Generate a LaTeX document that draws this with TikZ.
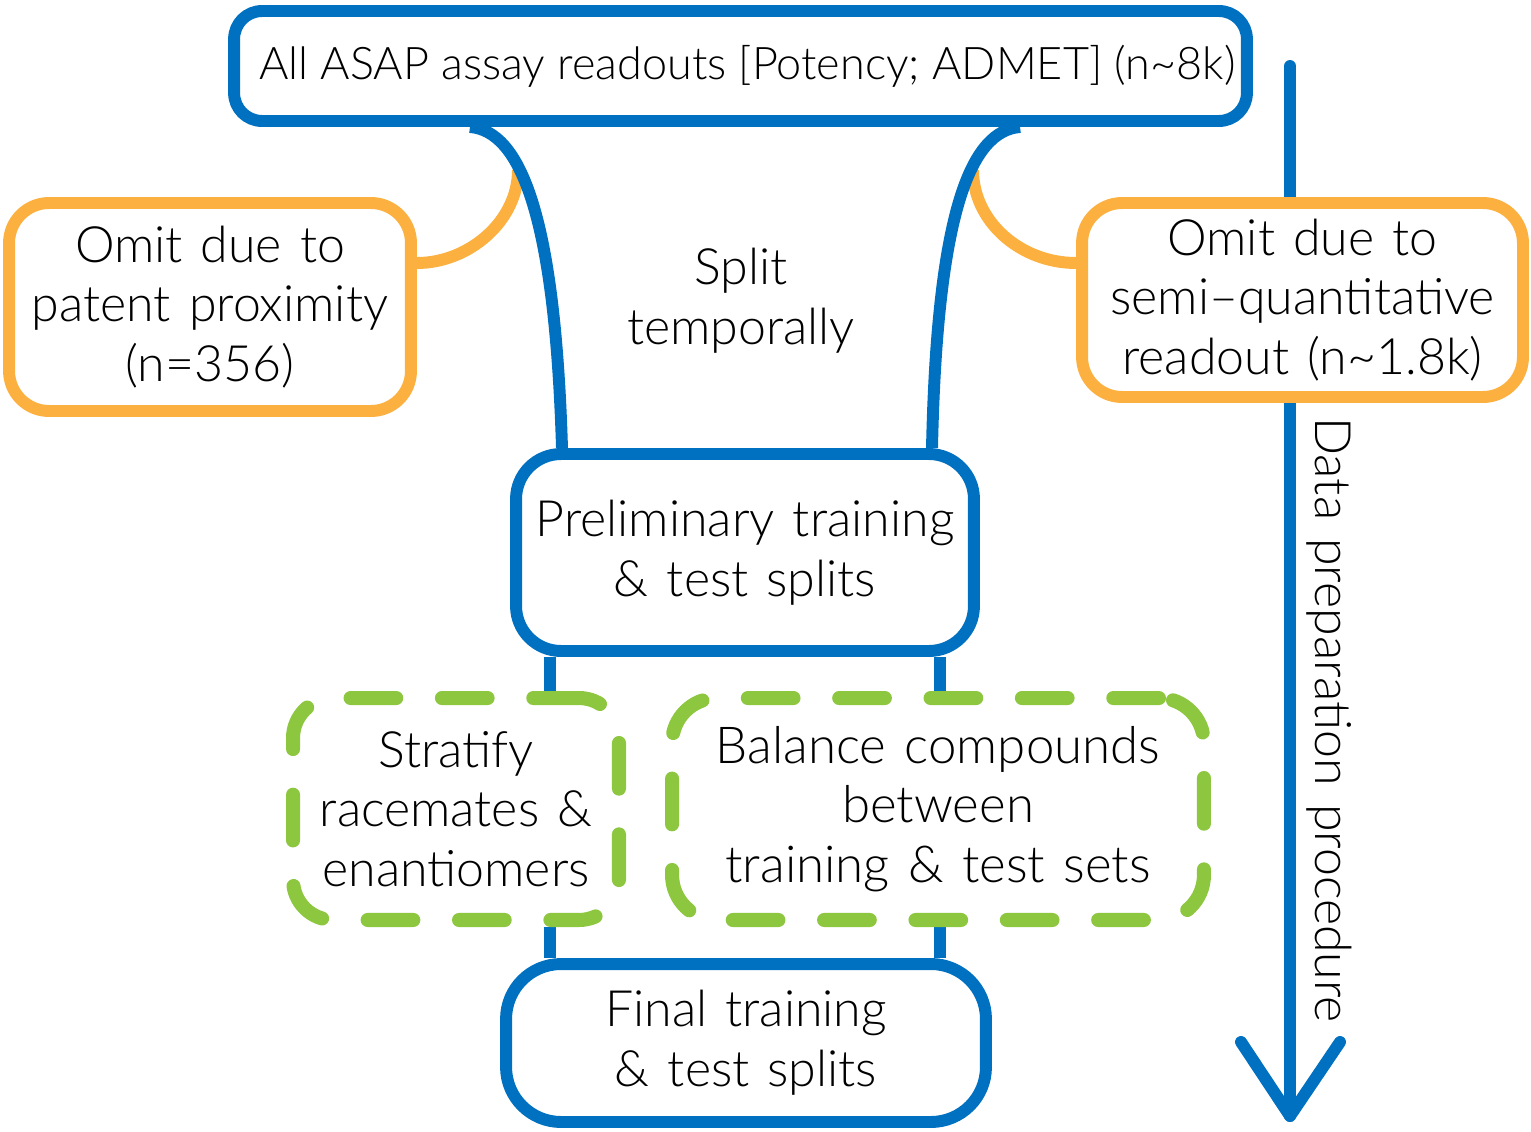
\documentclass[tikz,border=0pt]{standalone}
\usepackage{fontspec}
\setmainfont{Lato}[UprightFont=* Light]
\definecolor{cblue}{HTML}{0070C0}
\definecolor{corange}{HTML}{FBB040}
\definecolor{cgreen}{HTML}{8DC63F}
\newcommand\wsp{\hspace{0.36em}}
\pgfdeclarelayer{bg}
\pgfsetlayers{bg,main}
\begin{document}
\begin{tikzpicture}[x=0.02cm,y=-0.02cm,
  txt/.style={align=center,inner sep=0pt,font=\fontsize{28.5}{34}\selectfont},
  bluebox/.style={txt,draw=cblue,line width=6.8pt,fill=white},
  orangebox/.style={txt,draw=corange,line width=6.8pt,fill=white,rounded corners=0.8cm},
  greenbox/.style={txt,draw=cgreen,line width=8pt,fill=white,dash pattern=on 26pt off 26pt,line cap=round},
  blueline/.style={draw=cblue,line width=6.8pt},
  orangeline/.style={draw=corange,line width=6.8pt},
  arrowline/.style={draw=cblue,line width=6.8pt,line cap=round,line join=round}
]
\useasboundingbox (0,0) rectangle (1531,1132);

% nodes
\node[bluebox,rounded corners=0.56cm,minimum width=20.26cm,minimum height=2.2cm,
      font=\fontsize{25.6}{30}\selectfont] (top) at (740.5,66)
      {\hspace{0.3em}All ASAP assay readouts [Potency; ADMET] (n\textasciitilde 8k)};
\node[orangebox,minimum width=8.04cm,minimum height=4.16cm] (lo) at (210,307)
      {Omit\wsp due\wsp to\\patent\wsp proximity\\(n=356)};
\node[orangebox,minimum width=8.82cm,minimum height=3.88cm] (ro) at (1302.5,300)
      {Omit\wsp due\wsp to\\semi–quantitative\\readout\wsp(n\textasciitilde 1.8k)};
\node[txt] (split) at (741,301) {Split\\temporally};
\node[bluebox,rounded corners=0.9cm,minimum width=9.16cm,minimum height=3.94cm] (pre) at (745,552.5)
      {Preliminary\wsp training\\\&\wsp test\wsp splits};
\node[greenbox,rounded corners=0.8cm,minimum width=6.52cm,minimum height=4.44cm] (sl) at (456,809)
      {Stratify\\racemates\wsp\&\\enantiomers};
\node[greenbox,rounded corners=0.9cm,minimum width=10.64cm,minimum height=4.44cm,
      font=\fontsize{29}{34}\selectfont] (sr) at (938,809)
      {Balance\wsp compounds\\between\\training\wsp\&\wsp test\wsp sets};
\node[bluebox,rounded corners=1.1cm,minimum width=9.6cm,minimum height=3.16cm] (fin) at (746,1043)
      {Final\wsp training\\\&\wsp test\wsp splits};
\node[txt,rotate=-90] (lab) at (1329,720) {Data\wsp preparation\wsp procedure};

% helper coordinates
\coordinate (xa) at (470,0);
\coordinate (xb) at (562,0);
\coordinate (xc) at (1020,0);
\coordinate (xd) at (932,0);
\coordinate (xl) at (550,0);
\coordinate (xr) at (940,0);
\coordinate (ya) at (0,263);
\coordinate (lj) at (518,170);
\coordinate (rj) at (973,170);
\coordinate (arTop) at (1290,66);
\coordinate (arEnd) at (1290,1116);
\coordinate (arL) at (1241,1042);
\coordinate (arR) at (1340,1042);

\begin{pgfonlayer}{bg}
  % procedure arrow
  \draw[arrowline] (arTop) -- (arEnd);
  \draw[arrowline] (arL) -- (arEnd) -- (arR);
  % orange omission arcs
  \draw[orangeline] (lo.east |- ya) .. controls +(52,0) and +(0,51) .. (lj);
  \draw[orangeline] (ro.west |- ya) .. controls +(-56,0) and +(0,51) .. (rj);
  % temporal split curves
  \draw[blueline] (top.south -| xa) .. controls +(50,4) and +(-7,-234) .. (pre.north -| xb);
  \draw[blueline] (top.south -| xc) .. controls +(-50,4) and +(5,-234) .. (pre.north -| xd);
  % vertical connectors
  \draw[blueline] (pre.south -| xl) -- (sl.north -| xl);
  \draw[blueline] (pre.south -| xr) -- (sr.north -| xr);
  \draw[blueline] (sl.south -| xl) -- (fin.north -| xl);
  \draw[blueline] (sr.south -| xr) -- (fin.north -| xr);
\end{pgfonlayer}
\end{tikzpicture}
\end{document}
